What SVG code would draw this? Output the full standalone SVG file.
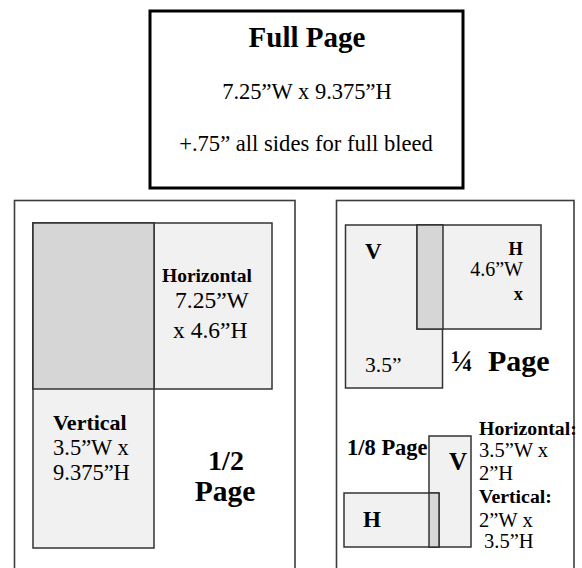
<svg xmlns="http://www.w3.org/2000/svg" width="582" height="568" viewBox="0 0 582 568">
<style>
text{font-family:"Liberation Serif","Times New Roman",serif;fill:#000}
.b{font-weight:bold}
.frame{fill:none;stroke:#3c3c3c;stroke-width:1.6}
.lt{fill:#f1f1f1;stroke:#333;stroke-width:1.5}
.dk{fill:#d6d6d6;stroke:#333;stroke-width:1.5}
</style>
<rect width="582" height="568" fill="#fff"/>
<g id="full-page">
<rect x="150" y="11" width="313" height="177" fill="#fff" stroke="#000" stroke-width="3"/>
<text class="b" x="307" y="47" font-size="29" text-anchor="middle">Full Page</text>
<text x="307" y="99" font-size="22.5" text-anchor="middle">7.25”W x 9.375”H</text>
<text x="306" y="151" font-size="22.6" text-anchor="middle">+.75” all sides for full bleed</text>
</g>
<g id="half-page">
<rect class="frame" x="14.5" y="200.5" width="280.5" height="400"/>
<rect class="lt" x="33" y="223" width="239" height="166"/>
<rect class="lt" x="33" y="223" width="121" height="325"/>
<rect class="dk" x="33" y="223" width="121" height="166"/>
<text class="b" x="162" y="282" font-size="19.5">Horizontal</text>
<text x="175" y="308" font-size="23.5">7.25”W</text>
<text x="173" y="338" font-size="23.5">x 4.6”H</text>
<text class="b" x="53" y="430" font-size="22">Vertical</text>
<text x="53" y="455" font-size="22.5">3.5”W x</text>
<text x="53" y="480" font-size="22.5">9.375”H</text>
<text class="b" x="226" y="470" font-size="28" text-anchor="middle">1/2</text>
<text class="b" x="225" y="501" font-size="29.5" text-anchor="middle">Page</text>
</g>
<g id="quarter-eighth-page">
<rect class="frame" x="336.5" y="200.5" width="237.5" height="400"/>
<rect class="lt" x="345.5" y="225" width="97" height="163"/>
<rect class="lt" x="417" y="225" width="124" height="104"/>
<rect class="dk" x="417" y="225" width="26" height="104"/>
<text class="b" x="365" y="259" font-size="23">V</text>
<text class="b" x="523" y="255" font-size="18.5" text-anchor="end">H</text>
<text x="523" y="276" font-size="20" text-anchor="end">4.6”W</text>
<text class="b" x="523" y="300" font-size="18.5" text-anchor="end">x</text>
<text x="365" y="372" font-size="21.5">3.5”</text>
<text class="b" x="451" y="371" font-size="29.5">¼ <tspan x="488" font-size="30">Page</tspan></text>
<rect class="lt" x="429" y="436" width="42" height="111"/>
<rect class="lt" x="344" y="493" width="95" height="54"/>
<rect class="dk" x="429" y="493" width="10" height="54"/>
<text class="b" x="347" y="455" font-size="22.5">1/8 Page</text>
<text class="b" x="449" y="470" font-size="25">V</text>
<text class="b" x="363" y="527" font-size="23">H</text>
<text class="b" x="479" y="435" font-size="19.8">Horizontal:</text>
<text x="479" y="457" font-size="20.5">3.5”W x</text>
<text x="479" y="480" font-size="20.5">2”H</text>
<text class="b" x="479" y="503" font-size="19.8">Vertical:</text>
<text x="479" y="527" font-size="20.5">2”W x</text>
<text x="484" y="548" font-size="20.5">3.5”H</text>
</g>
</svg>
